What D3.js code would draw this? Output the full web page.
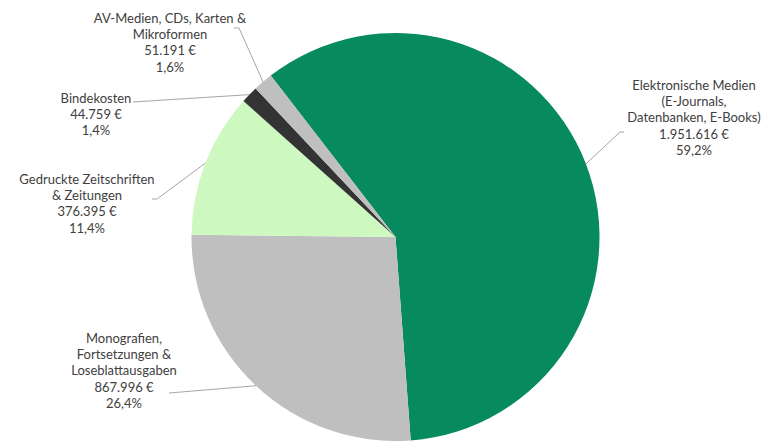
<!DOCTYPE html>
<html><head><meta charset="utf-8">
<script src="https://cdn.jsdelivr.net/npm/d3@7"></script>
<style>html,body{margin:0;padding:0;background:#fff;}svg{display:block;}</style>
</head><body><svg id="c" width="762" height="441"></svg>
<script>
const categories = [
  ["Elektronische Medien", "(E-Journals,", "Datenbanken, E-Books)"],
  ["Monografien,", "Fortsetzungen &", "Loseblattausgaben"],
  ["Gedruckte Zeitschriften", "& Zeitungen"],
  ["Bindekosten"],
  ["AV-Medien, CDs, Karten &", "Mikroformen"]
];
const values = [1951616, 867996, 376395, 44759, 51191];
const valueLabels = ["1.951.616 €", "867.996 €", "376.395 €", "44.759 €", "51.191 €"];
const percentLabels = ["59,2%", "26,4%", "11,4%", "1,4%", "1,6%"];
const colors = ["#068a5e", "#bfbfbf", "#cdf8c0", "#333333", "#bfbfbf"];

// layout (not data)
const cx = 395.5, cy = 237, R = 204;
const startDeg = -37.7;
// label text center x, first-line center y, leader start point
const labelLayout = [
  {x: 694, y: 85, lx: 624, ly: 132, hx: 620},
  {x: 124, y: 338, lx: 169, ly: 393, hx: 169},
  {x: 87, y: 179, lx: 152, ly: 199, hx: 157},
  {x: 96, y: 98, lx: 133, ly: 102, hx: 133},
  {x: 170, y: 18, lx: 234, ly: 28, hx: 239}
];
const lineH = 16.4;

const svg = d3.select("#c");
const g = svg.append("g").attr("transform", `translate(${cx},${cy})`);
const toRad = d => d * Math.PI / 180;
const pie = d3.pie().sort(null).value(d => d)
  .startAngle(toRad(startDeg)).endAngle(toRad(startDeg + 360));
const arcs = pie(values);
const arc = d3.arc().innerRadius(0).outerRadius(R);
const edge = d3.arc().innerRadius(R).outerRadius(R);

g.selectAll("path.slice").data(arcs).join("path")
  .attr("class", "slice")
  .attr("d", arc)
  .attr("fill", (d, i) => colors[i]);

// leader lines
svg.selectAll("path.leader").data(arcs).join("path")
  .attr("class", "leader")
  .attr("fill", "none")
  .attr("stroke", "#a6a6a6")
  .attr("stroke-width", 1)
  .attr("d", (d, i) => {
    const L = labelLayout[i];
    const c = edge.centroid(d);
    return `M${L.lx},${L.ly}L${L.hx},${L.ly}L${cx + c[0]},${cy + c[1]}`;
  });

// labels
const labels = svg.selectAll("text.lbl").data(arcs).join("text")
  .attr("class", "lbl")
  .attr("text-anchor", "middle")
  .attr("font-family", "Lato, 'Open Sans', sans-serif")
  .attr("font-size", 13)
  .attr("fill", "#404040");
labels.each(function(d, i) {
  const L = labelLayout[i];
  const lines = categories[i].concat([valueLabels[i], percentLabels[i]]);
  d3.select(this).selectAll("tspan").data(lines).join("tspan")
    .attr("x", L.x)
    .attr("y", (t, j) => L.y + j * lineH)
    .attr("dy", "0.35em")
    .text(t => t);
});
</script></body></html>
